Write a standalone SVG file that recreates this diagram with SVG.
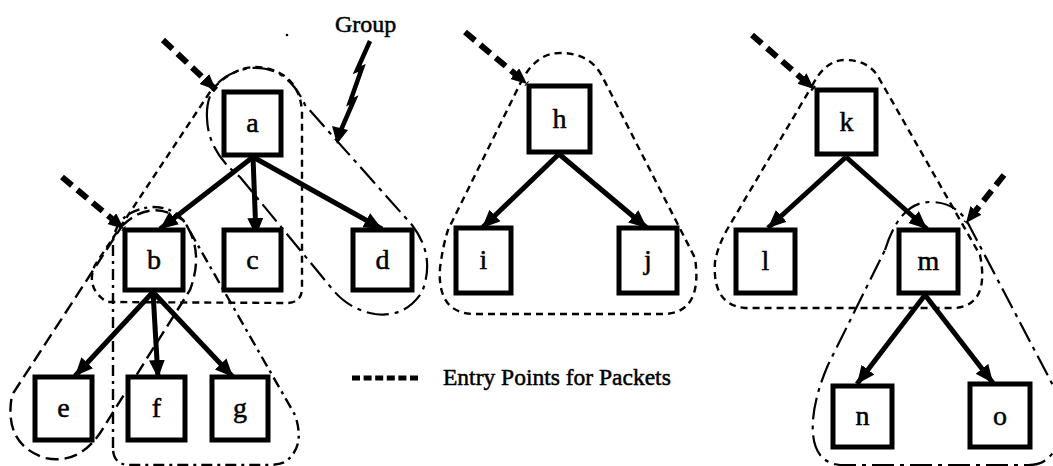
<svg xmlns="http://www.w3.org/2000/svg" width="1053" height="466" viewBox="0 0 1053 466">
  <defs>
    <marker id="head" markerUnits="userSpaceOnUse" markerWidth="20" markerHeight="18" refX="18" refY="8" orient="auto">
      <path d="M0,0 L18,8 L0,16 Z" fill="#000"/>
    </marker>
    <marker id="entryhead" markerUnits="userSpaceOnUse" markerWidth="20" markerHeight="16" refX="16" refY="7" orient="auto">
      <path d="M0,0 L16,7 L0,14 Z" fill="#000"/>
    </marker>
    <style>
      .box { fill: #fff; stroke: #000; stroke-width: 5; }
      .lbl { font-family: "Liberation Serif", "Times New Roman", serif; font-size: 28px; text-anchor: middle; fill: #000; stroke: #000; stroke-width: 0.5; }
      .edge { stroke: #000; stroke-width: 5; fill: none; marker-end: url(#head); }
      .entry { stroke: #000; stroke-width: 6; fill: none; stroke-dasharray: 13 7; marker-end: url(#entryhead); }
      .g-fine { fill: none; stroke: #000; stroke-width: 2.4; stroke-dasharray: 7 5; }
      .g-long { fill: none; stroke: #000; stroke-width: 2.4; stroke-dasharray: 13 6; }
      .g-dashdot { fill: none; stroke: #000; stroke-width: 2.4; stroke-dasharray: 11 5 3 5; }
      .g-longdot { fill: none; stroke: #000; stroke-width: 2.2; stroke-dasharray: 22 6 4 6; }
      .note { font-family: "Liberation Serif", "Times New Roman", serif; fill: #000; stroke: #000; stroke-width: 0.5; }
    </style>
  </defs>

  <!-- group outlines -->
  <g id="groups">
    <path class="g-fine" d="M 210,92 L 95,265 Q 85,288 107,302 L 288,303 Q 302,302 302,288 L 302,112 Q 300,76 266,68 Q 236,62 210,92 Z"/>
    <path class="g-longdot" d="M 207,118 Q 205,76 250,68 Q 287,65 305,105 L 412,225 Q 436,256 422,292 Q 405,318 375,314 Q 350,310 333,290 L 240,177 Q 208,152 207,118 Z"/>
    <path class="g-long" d="M 122,226 Q 150,198 183,220 Q 205,250 190,290 L 105,425 Q 82,466 45,458 Q 3,444 12,395 Z"/>
    <path class="g-dashdot" d="M 113,448 L 113,240 Q 118,210 152,207 Q 178,207 188,228 L 295,415 Q 306,447 285,462 Q 278,465 268,465 L 130,465 Q 113,465 113,448 Z"/>
    <path class="g-fine" d="M 520,84 Q 535,53 560,53 Q 590,53 602,76 L 695,258 Q 703,312 665,314 L 472,314 Q 437,312 440,268 Q 443,245 448,230 Z"/>
    <path class="g-fine" d="M 812,86 Q 825,60 845,60 Q 870,60 880,80 L 980,255 Q 990,305 955,308 L 745,308 Q 712,305 715,262 Q 718,245 728,228 Z"/>
    <path class="g-longdot" d="M 885,250 Q 900,202 930,202 Q 958,202 970,227 L 1058,395 Q 1068,468 1025,465 L 840,465 Q 810,462 813,420 Q 815,395 828,365 Z"/>
  </g>

  <!-- connectors -->
  <g id="connectors">
    <line class="edge" x1="253" y1="157" x2="160" y2="229"/>
    <line class="edge" x1="253" y1="157" x2="256" y2="236"/>
    <line class="edge" x1="253" y1="157" x2="382" y2="229"/>
    <line class="edge" x1="153" y1="292" x2="75" y2="376"/>
    <line class="edge" x1="153" y1="292" x2="158" y2="378"/>
    <line class="edge" x1="153" y1="292" x2="233" y2="377"/>
    <line class="edge" x1="559" y1="154" x2="482" y2="228"/>
    <line class="edge" x1="559" y1="154" x2="647" y2="228"/>
    <line class="edge" x1="846" y1="157" x2="768" y2="228"/>
    <line class="edge" x1="846" y1="157" x2="927" y2="229"/>
    <line class="edge" x1="925" y1="295" x2="857" y2="384"/>
    <line class="edge" x1="925" y1="295" x2="993" y2="383"/>

    <!-- packet entry points -->
    <line class="entry" x1="163" y1="40" x2="216" y2="90"/>
    <line class="entry" x1="62" y1="177" x2="124" y2="229"/>
    <line class="entry" x1="465" y1="32" x2="527" y2="84"/>
    <line class="entry" x1="752" y1="35" x2="814" y2="89"/>
    <line class="entry" x1="1004" y1="175" x2="966" y2="223"/>
  </g>

  <!-- nodes -->
  <g id="node-a"><rect class="box" x="224" y="92" width="57" height="63"/><text class="lbl" x="252.5" y="132">a</text></g>
  <g id="node-b"><rect class="box" x="125" y="230" width="58" height="60"/><text class="lbl" x="154" y="269">b</text></g>
  <g id="node-c"><rect class="box" x="224" y="230" width="57" height="60"/><text class="lbl" x="252.5" y="269">c</text></g>
  <g id="node-d"><rect class="box" x="353" y="230" width="59" height="60"/><text class="lbl" x="382.5" y="269">d</text></g>
  <g id="node-e"><rect class="box" x="35" y="377" width="57" height="63"/><text class="lbl" x="63.5" y="417">e</text></g>
  <g id="node-f"><rect class="box" x="128" y="377" width="57" height="63"/><text class="lbl" x="156.5" y="417">f</text></g>
  <g id="node-g"><rect class="box" x="212" y="377" width="56" height="63"/><text class="lbl" x="240" y="417">g</text></g>
  <g id="node-h"><rect class="box" x="529" y="86" width="61" height="66"/><text class="lbl" x="559.5" y="128">h</text></g>
  <g id="node-i"><rect class="box" x="456" y="228" width="55" height="65"/><text class="lbl" x="483.5" y="269">i</text></g>
  <g id="node-j"><rect class="box" x="619" y="228" width="58" height="65"/><text class="lbl" x="648" y="269">j</text></g>
  <g id="node-k"><rect class="box" x="817" y="90" width="59" height="64"/><text class="lbl" x="846.5" y="131">k</text></g>
  <g id="node-l"><rect class="box" x="736" y="230" width="59" height="63"/><text class="lbl" x="765.5" y="270">l</text></g>
  <g id="node-m"><rect class="box" x="899" y="230" width="59" height="63"/><text class="lbl" x="928.5" y="270">m</text></g>
  <g id="node-n"><rect class="box" x="833" y="386" width="59" height="61"/><text class="lbl" x="862.5" y="425">n</text></g>
  <g id="node-o"><rect class="box" x="970" y="384" width="60" height="63"/><text class="lbl" x="1000" y="425">o</text></g>

  <!-- group callout -->
  <g id="group-label">
    <text class="note" x="335" y="32" font-size="24">Group</text>
    <path d="M 370,41 L 357,70 L 362,68 L 350,102 L 354,100 L 341,130" stroke="#000" stroke-width="4.5" fill="none"/>
    <path d="M 332,126 L 337,144 L 348,130 Z" fill="#000"/>
    <circle cx="287" cy="35" r="1.3" fill="#000"/>
  </g>

  <!-- legend -->
  <g id="legend">
    <line x1="352" y1="378" x2="418" y2="378" stroke="#000" stroke-width="5" stroke-dasharray="8 3.6"/>
    <text class="note" x="443" y="385" font-size="23.5">Entry Points for Packets</text>
  </g>
</svg>
